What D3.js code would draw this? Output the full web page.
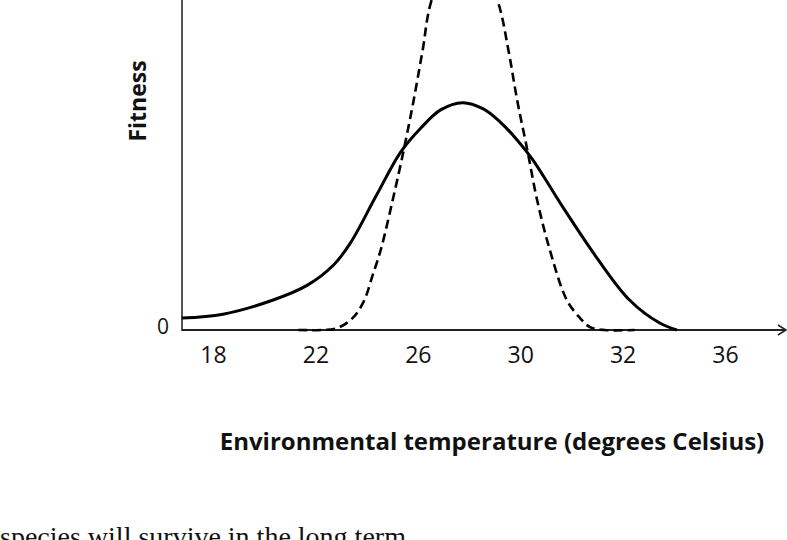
<!DOCTYPE html>
<html>
<head>
<meta charset="utf-8">
<script src="https://cdn.jsdelivr.net/npm/d3@7"></script>
<style>
  body { margin: 0; background: #fff; }
  svg { display: block; }
</style>
</head>
<body>
<div id="container"></div>
<script>
// tick labels on the temperature axis (spaced evenly on the page)
let tickTemps = [18, 22, 26, 30, 32, 36];

// broad tolerance curve (solid)
let broadTemp    = [16.78, 18.39, 20.35, 21.69, 22.71, 23.37, 24.39, 25.33, 26.12, 26.89, 27.75, 28.56, 29.22, 29.88, 30.25, 30.83, 31.5, 32.27, 33.45, 34.12];
let broadFitness = [0.36, 0.48, 0.91, 1.36, 1.97, 2.64, 4.09, 5.39, 6.12, 6.67, 6.89, 6.70, 6.30, 5.76, 5.15, 3.73, 2.18, 0.91, 0.21, 0];

// narrow tolerance curve (dashed), its top runs off the picture
let narrowTemp    = [21.33, 22.2, 22.86, 23.45, 23.88, 24.24, 24.55, 25.02, 25.45, 25.84, 26.19, 26.54, 27.83, 29.11, 29.54, 29.88, 30.14, 30.33, 30.58, 30.91, 31.17, 31.36, 31.65, 32.47];
let narrowFitness = [0, 0, 0.06, 0.36, 0.85, 1.67, 2.42, 3.94, 5.45, 6.97, 8.48, 10.0, 12.3, 10.0, 8.48, 6.97, 5.45, 3.94, 2.42, 0.91, 0.36, 0.09, 0, 0];

let w = 787;
let h = 540;
let originX = 182;
let originY = 330;

let viz = d3.select("#container")
  .append("svg")
    .attr("width", w)
    .attr("height", h)
;

// labels are evenly spaced even though the numbers are not, so piecewise scale
let xScale = d3.scaleLinear()
  .domain(tickTemps)
  .range(tickTemps.map(function(d, i){ return 213 + i * 102.4; }))
;

let yScale = d3.scaleLinear()
  .domain([0, 10])
  .range([originY, 0])
;

function zipPts(xs, ys){
  return xs.map(function(d, i){ return [d, ys[i]]; });
}

let lineMaker = d3.line()
  .x(function(d){ return xScale(d[0]); })
  .y(function(d){ return yScale(d[1]); })
  .curve(d3.curveCatmullRom.alpha(0.5))
;

// axes lines
viz.append("line")
  .attr("x1", originX).attr("y1", 0)
  .attr("x2", originX).attr("y2", originY + 1)
  .attr("stroke", "#555")
  .attr("stroke-width", 2)
;

viz.append("line")
  .attr("x1", originX).attr("y1", originY)
  .attr("x2", 786).attr("y2", originY)
  .attr("stroke", "#222")
  .attr("stroke-width", 2)
;

viz.append("path")
  .attr("d", "M778," + (originY - 5) + "L786," + originY + "L778," + (originY + 5))
  .attr("fill", "none")
  .attr("stroke", "#222")
  .attr("stroke-width", 1.6)
;

// tick labels only
let xAxis = d3.axisBottom(xScale)
  .tickValues(tickTemps)
  .tickFormat(d3.format("d"))
  .tickSize(0)
  .tickPadding(17)
;

viz.append("g")
  .attr("transform", "translate(0," + originY + ")")
  .call(xAxis)
  .call(function(g){ g.select(".domain").remove(); })
  .selectAll("text")
    .style("font-family", "'Open Sans', sans-serif")
    .style("font-size", "23px")
    .attr("fill", "#111")
;

viz.append("text")
  .attr("x", 163)
  .attr("y", yScale(0) - 2)
  .attr("text-anchor", "middle")
  .attr("dominant-baseline", "middle")
  .style("font-family", "'Open Sans', sans-serif")
  .style("font-size", "21px")
  .attr("fill", "#111")
  .text("0")
;

// curves
viz.append("path")
  .datum(zipPts(broadTemp, broadFitness))
  .attr("d", lineMaker)
  .attr("fill", "none")
  .attr("stroke", "black")
  .attr("stroke-width", 3)
;

viz.append("path")
  .datum(zipPts(narrowTemp, narrowFitness))
  .attr("d", lineMaker)
  .attr("fill", "none")
  .attr("stroke", "black")
  .attr("stroke-width", 2.6)
  .attr("stroke-dasharray", "9,5")
;

// titles
viz.append("text")
  .attr("transform", "translate(146,101) rotate(-90)")
  .attr("text-anchor", "middle")
  .style("font-family", "'Open Sans', sans-serif")
  .style("font-weight", "bold")
  .style("font-size", "23px")
  .attr("fill", "#111")
  .text("Fitness")
;

viz.append("text")
  .attr("x", 492)
  .attr("y", 450)
  .attr("text-anchor", "middle")
  .style("font-family", "'Open Sans', sans-serif")
  .style("font-weight", "bold")
  .style("font-size", "24px")
  .attr("fill", "#111")
  .text("Environmental temperature (degrees Celsius)")
;

// question text cut off at the bottom
viz.append("text")
  .attr("x", 0)
  .attr("y", 546)
  .style("font-family", "'Liberation Serif', serif")
  .style("font-size", "28px")
  .attr("fill", "#111")
  .text("species will survive in the long term.")
;
</script>
</body>
</html>
